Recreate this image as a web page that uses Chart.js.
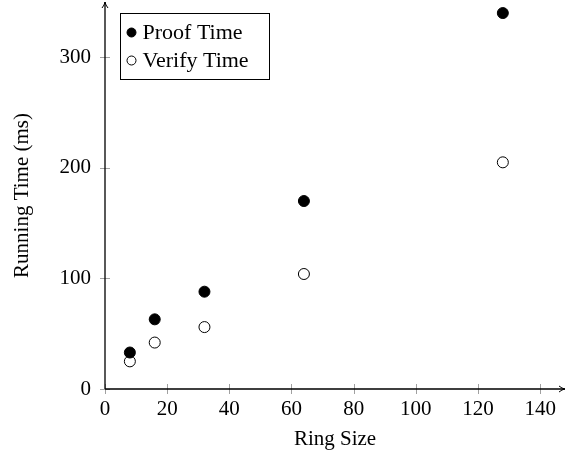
<!DOCTYPE html>
<html>
<head>
<meta charset="utf-8">
<script src="https://cdn.jsdelivr.net/npm/chart.js@4.4.0/dist/chart.umd.min.js"></script>
<style>
  html, body { margin: 0; padding: 0; background: #fff; }
  #wrap { width: 565px; height: 458px; }
</style>
</head>
<body>
<div id="wrap"><canvas id="chart"></canvas></div>
<script>
const ringSizes = [8, 16, 32, 64, 128];
const proofTime = [33, 63, 88, 170, 340];
const verifyTime = [25, 42, 56, 104, 205];
const seriesNames = ['Proof Time', 'Verify Time'];
const xTickValues = [0, 20, 40, 60, 80, 100, 120, 140];
const yTickValues = [0, 100, 200, 300];

const FONT = "'Liberation Serif', 'Times New Roman', serif";

function toPoints(xs, ys) {
    return xs.map((x, i) => ({ x: x, y: ys[i] }));
}

// axis lines with arrow tips, ticks across the axis, and the boxed legend
const texAxes = {
    id: 'texAxes',
    beforeDatasetsDraw(chart) {
        const ctx = chart.ctx;
        const xs = chart.scales.x, ys = chart.scales.y;
        const x0 = xs.getPixelForValue(0);
        const y0 = ys.getPixelForValue(0);
        const area = chart.chartArea;
        ctx.save();
        // tick marks
        ctx.strokeStyle = '#a0a0a0';
        ctx.lineWidth = 1;
        xs.ticks.forEach(t => {
            const px = Math.round(xs.getPixelForValue(t.value)) + 0.5;
            ctx.beginPath();
            ctx.moveTo(px, y0 - 5);
            ctx.lineTo(px, y0 + 5);
            ctx.stroke();
        });
        ys.ticks.forEach(t => {
            const py = Math.round(ys.getPixelForValue(t.value)) + 0.5;
            ctx.beginPath();
            ctx.moveTo(x0 - 5, py);
            ctx.lineTo(x0 + 5, py);
            ctx.stroke();
        });
        // axis lines
        ctx.strokeStyle = '#000';
        ctx.lineWidth = 1.3;
        ctx.beginPath();
        ctx.moveTo(x0, y0);
        ctx.lineTo(x0, area.top);
        ctx.moveTo(x0, y0);
        ctx.lineTo(area.right, y0);
        ctx.stroke();
        // arrow tips
        ctx.lineWidth = 1;
        ctx.beginPath();
        ctx.moveTo(x0 - 3, area.top + 6);
        ctx.quadraticCurveTo(x0 - 0.5, area.top + 3, x0, area.top);
        ctx.quadraticCurveTo(x0 + 0.5, area.top + 3, x0 + 3, area.top + 6);
        ctx.moveTo(area.right - 6, y0 - 3);
        ctx.quadraticCurveTo(area.right - 3, y0 - 0.5, area.right, y0);
        ctx.quadraticCurveTo(area.right - 3, y0 + 0.5, area.right - 6, y0 + 3);
        ctx.stroke();
        ctx.restore();
    },
    afterDraw(chart) {
        const ctx = chart.ctx;
        const bx = 120.5, by = 13.5, bw = 149, bh = 66;
        ctx.save();
        ctx.fillStyle = '#fff';
        ctx.fillRect(bx, by, bw, bh);
        ctx.strokeStyle = '#000';
        ctx.lineWidth = 1;
        ctx.strokeRect(bx, by, bw, bh);
        ctx.font = '22px ' + FONT;
        ctx.textBaseline = 'middle';
        chart.data.datasets.forEach((ds, i) => {
            const cy = by + 19 + i * 28;
            ctx.beginPath();
            ctx.arc(bx + 11, cy, 4.5, 0, Math.PI * 2);
            ctx.fillStyle = ds.pointBackgroundColor;
            ctx.fill();
            ctx.strokeStyle = '#000';
            ctx.lineWidth = 1;
            ctx.stroke();
            ctx.fillStyle = '#000';
            ctx.fillText(ds.label, bx + 22, cy + 1);
        });
        ctx.restore();
    }
};

new Chart(document.getElementById('chart'), {
    type: 'scatter',
    data: {
        datasets: [{
            label: seriesNames[0],
            data: toPoints(ringSizes, proofTime),
            pointBackgroundColor: '#000',
            pointBorderColor: '#000',
            pointBorderWidth: 1,
            pointRadius: 5.5,
            pointHoverRadius: 5.5
        }, {
            label: seriesNames[1],
            data: toPoints(ringSizes, verifyTime),
            pointBackgroundColor: '#fff',
            pointBorderColor: '#000',
            pointBorderWidth: 1,
            pointRadius: 5.5,
            pointHoverRadius: 5.5
        }]
    },
    options: {
        responsive: true,
        maintainAspectRatio: false,
        animation: false,
        layout: {
            autoPadding: false,
            padding: { top: 2, right: 0, left: 0, bottom: 0 }
        },
        plugins: {
            legend: { display: false },
            tooltip: { enabled: false }
        },
        scales: {
            x: {
                type: 'linear',
                min: 0,
                max: 148,
                grid: { display: false, drawTicks: false },
                border: { display: false },
                afterBuildTicks: s => { s.ticks = xTickValues.map(v => ({ value: v })); },
                afterFit: s => { s.height = 69; s.paddingLeft = 0; s.paddingRight = 0; },
                ticks: {
                    padding: 8,
                    color: '#000',
                    font: { family: FONT, size: 21 },
                    maxRotation: 0,
                    autoSkip: false
                },
                title: {
                    display: true,
                    text: 'Ring Size',
                    color: '#000',
                    font: { family: FONT, size: 21 },
                    padding: { top: 0, bottom: 6 }
                }
            },
            y: {
                type: 'linear',
                min: 0,
                max: 350,
                grid: { display: false, drawTicks: false },
                border: { display: false },
                afterBuildTicks: s => { s.ticks = yTickValues.map(v => ({ value: v })); },
                afterFit: s => { s.width = 105; s.paddingTop = 0; s.paddingBottom = 0; },
                ticks: {
                    padding: 14,
                    color: '#000',
                    font: { family: FONT, size: 21 },
                    autoSkip: false
                },
                title: {
                    display: true,
                    text: 'Running Time (ms)',
                    color: '#000',
                    font: { family: FONT, size: 21 },
                    padding: { top: 10, bottom: 0 }
                }
            }
        }
    },
    plugins: [texAxes]
});
</script>
</body>
</html>
